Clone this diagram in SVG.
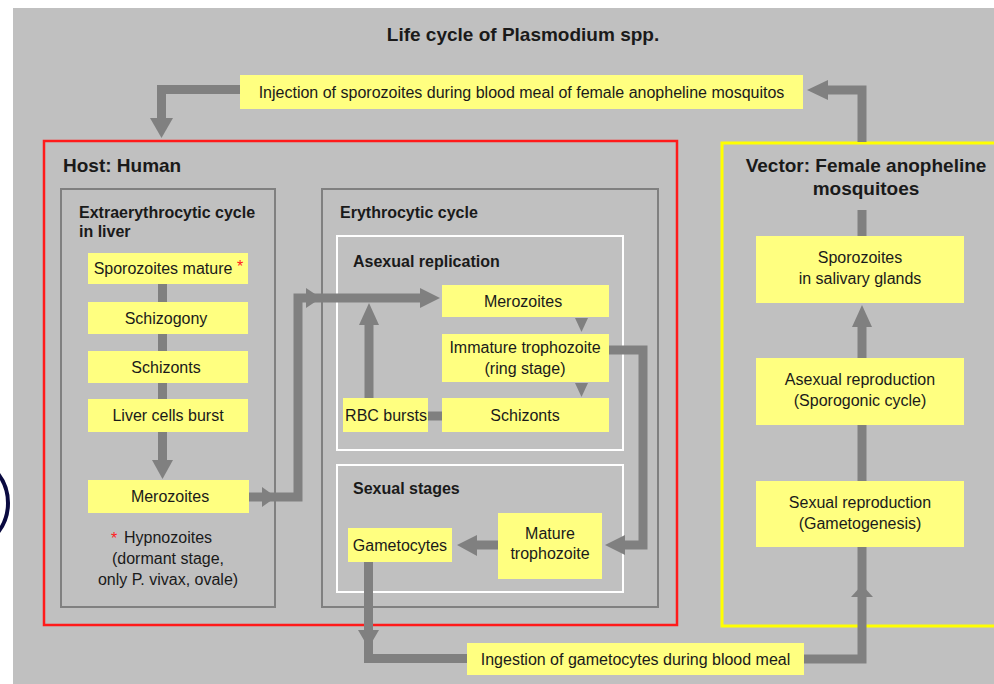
<svg xmlns="http://www.w3.org/2000/svg" width="994" height="684" viewBox="0 0 994 684">
<style>
.t{font-family:"Liberation Sans",Arial,sans-serif;font-size:16px;fill:#1a1a1a}
.c{text-anchor:middle}
.h{font-weight:bold;font-size:19px}
.h2{font-weight:bold;font-size:16px}
.box{fill:#ffff80}
.grayframe{fill:none;stroke:#808080;stroke-width:2}
.whiteframe{fill:none;stroke:#ffffff;stroke-width:2}
.bar{fill:none;stroke:#808080;stroke-width:9;stroke-linejoin:miter;stroke-linecap:butt}
.ah{fill:#808080}
.star{fill:#ff2020}
</style>
<rect x="0" y="0" width="994" height="684" fill="#ffffff"/>
<rect x="13" y="8" width="981" height="676" fill="#c0c0c0"/>
<circle cx="-40" cy="503" r="48" fill="none" stroke="#0a0a40" stroke-width="4"/>
<text class="t h c" x="523" y="41">Life cycle of Plasmodium spp.</text>

<g id="host">
  <rect x="44" y="141" width="633" height="484" fill="none" stroke="#ff1a1a" stroke-width="2.5"/>
  <text class="t h" x="63" y="172">Host: Human</text>
</g>
<g id="liver-cycle">
  <rect class="grayframe" x="61" y="189" width="214" height="418"/>
  <text class="t h2" x="79" y="218">Extraerythrocytic cycle</text>
  <text class="t h2" x="79" y="237">in liver</text>
</g>
<g id="erythrocytic-cycle">
  <rect class="grayframe" x="322" y="189" width="336" height="418"/>
  <text class="t h2" x="340" y="218">Erythrocytic cycle</text>
</g>
<g id="asexual-replication">
  <rect class="whiteframe" x="337" y="236" width="286" height="214"/>
  <text class="t h2" x="353" y="267">Asexual replication</text>
</g>
<g id="sexual-stages">
  <rect class="whiteframe" x="337" y="465" width="286" height="127"/>
  <text class="t h2" x="353" y="494">Sexual stages</text>
</g>
<g id="vector">
  <rect x="722" y="143" width="300" height="483" fill="none" stroke="#ffff00" stroke-width="3"/>
  <text class="t h c" x="866" y="172">Vector: Female anopheline</text>
  <text class="t h c" x="866" y="195">mosquitoes</text>
</g>

<g id="connectors">
  <!-- injection to host -->
  <polyline class="bar" points="240,89.5 161.5,89.5 161.5,119"/>
  <polygon class="ah" points="150,118 173,118 161.5,138"/>
  <!-- vector to injection -->
  <polyline class="bar" points="862,142 862,90 827,90"/>
  <polygon class="ah" points="828,80 828,100 807,90"/>
  <!-- liver chain -->
  <line class="bar" x1="162.5" y1="284" x2="162.5" y2="461"/>
  <polygon class="ah" points="152,460 173,460 162.5,479"/>
  <!-- liver merozoites to erythrocytic merozoites -->
  <polyline class="bar" points="249,497 298,497 298,298 421,298"/>
  <polygon class="ah" points="262,487 262,507 276,497"/>
  <polygon class="ah" points="306,288 306,308 321,298"/>
  <polygon class="ah" points="420,288 420,308 440,298"/>
  <!-- merozoites to immature -->
  <polygon class="ah" points="575,318 588,318 581.5,332"/>
  <!-- immature to schizonts -->
  <polygon class="ah" points="575,383 588,383 581.5,397"/>
  <!-- schizonts to RBC bursts -->
  <line class="bar" x1="428" y1="416" x2="442" y2="416"/>
  <!-- RBC bursts to merozoites -->
  <line class="bar" x1="369" y1="398" x2="369" y2="324"/>
  <polygon class="ah" points="359,325 379,325 369,303"/>
  <!-- immature to mature trophozoite -->
  <polyline class="bar" points="609,350 643,350 643,545 624,545"/>
  <polygon class="ah" points="625,535 625,555 605,545"/>
  <!-- mature to gametocytes -->
  <line class="bar" x1="498" y1="545" x2="476" y2="545"/>
  <polygon class="ah" points="477,535 477,556 457,545"/>
  <!-- gametocytes to ingestion -->
  <polyline class="bar" points="368.5,562 368.5,658.5 467,658.5"/>
  <polygon class="ah" points="358,630 379,630 368.5,648"/>
  <!-- ingestion to sexual reproduction -->
  <polyline class="bar" points="804,659 862,659 862,547"/>
  <polygon class="ah" points="851,597 873,597 862,585"/>
  <!-- vector chain -->
  <line class="bar" x1="862" y1="210" x2="862" y2="236"/>
  <line class="bar" x1="862" y1="358" x2="862" y2="326"/>
  <polygon class="ah" points="852,327 872,327 862,305"/>
  <line class="bar" x1="862" y1="425" x2="862" y2="481"/>
</g>

<g id="injection">
  <rect class="box" x="240" y="75" width="563" height="34"/>
  <text class="t c" x="521.5" y="97.5">Injection of sporozoites during blood meal of female anopheline mosquitos</text>
</g>
<g id="sporozoites-mature">
  <rect class="box" x="88" y="253" width="160" height="31"/>
  <text class="t c" x="163" y="274">Sporozoites mature</text>
  <text class="t star" x="237" y="272">*</text>
</g>
<g id="schizogony">
  <rect class="box" x="88" y="302" width="160" height="32"/>
  <text class="t c" x="166" y="323.5">Schizogony</text>
</g>
<g id="schizonts-liver">
  <rect class="box" x="88" y="351" width="160" height="32"/>
  <text class="t c" x="166" y="372.5">Schizonts</text>
</g>
<g id="liver-cells-burst">
  <rect class="box" x="88" y="399" width="160" height="33"/>
  <text class="t c" x="168" y="421">Liver cells burst</text>
</g>
<g id="merozoites-liver">
  <rect class="box" x="88" y="480" width="161" height="33"/>
  <text class="t c" x="170" y="502">Merozoites</text>
</g>
<g id="hypnozoites">
  <text class="t star" x="111" y="544">*</text>
  <text class="t" x="124" y="543">Hypnozoites</text>
  <text class="t c" x="168" y="564">(dormant stage,</text>
  <text class="t c" x="168" y="585">only P. vivax, ovale)</text>
</g>
<g id="merozoites-blood">
  <rect class="box" x="442" y="285" width="167" height="32"/>
  <text class="t c" x="523" y="306.5">Merozoites</text>
</g>
<g id="immature-trophozoite">
  <rect class="box" x="442" y="334" width="167" height="48"/>
  <text class="t c" x="525" y="353">Immature trophozoite</text>
  <text class="t c" x="525" y="374">(ring stage)</text>
</g>
<g id="schizonts-blood">
  <rect class="box" x="442" y="398" width="167" height="34"/>
  <text class="t c" x="525" y="420.5">Schizonts</text>
</g>
<g id="rbc-bursts">
  <rect class="box" x="343" y="398" width="85" height="34"/>
  <text class="t c" x="386" y="420.5">RBC bursts</text>
</g>
<g id="gametocytes">
  <rect class="box" x="348" y="528" width="104" height="34"/>
  <text class="t c" x="400" y="550.5">Gametocytes</text>
</g>
<g id="mature-trophozoite">
  <rect class="box" x="498" y="513" width="104" height="66"/>
  <text class="t c" x="550" y="539">Mature</text>
  <text class="t c" x="550" y="559">trophozoite</text>
</g>
<g id="sporozoites-salivary">
  <rect class="box" x="756" y="236" width="208" height="67"/>
  <text class="t c" x="860" y="263">Sporozoites</text>
  <text class="t c" x="860" y="284">in salivary glands</text>
</g>
<g id="asexual-reproduction">
  <rect class="box" x="756" y="358" width="208" height="67"/>
  <text class="t c" x="860" y="385">Asexual reproduction</text>
  <text class="t c" x="860" y="406">(Sporogonic cycle)</text>
</g>
<g id="sexual-reproduction">
  <rect class="box" x="756" y="481" width="208" height="66"/>
  <text class="t c" x="860" y="508">Sexual reproduction</text>
  <text class="t c" x="860" y="529">(Gametogenesis)</text>
</g>
<g id="ingestion">
  <rect class="box" x="467" y="643" width="337" height="32"/>
  <text class="t c" x="635.5" y="664.5">Ingestion of gametocytes during blood meal</text>
</g>
</svg>
